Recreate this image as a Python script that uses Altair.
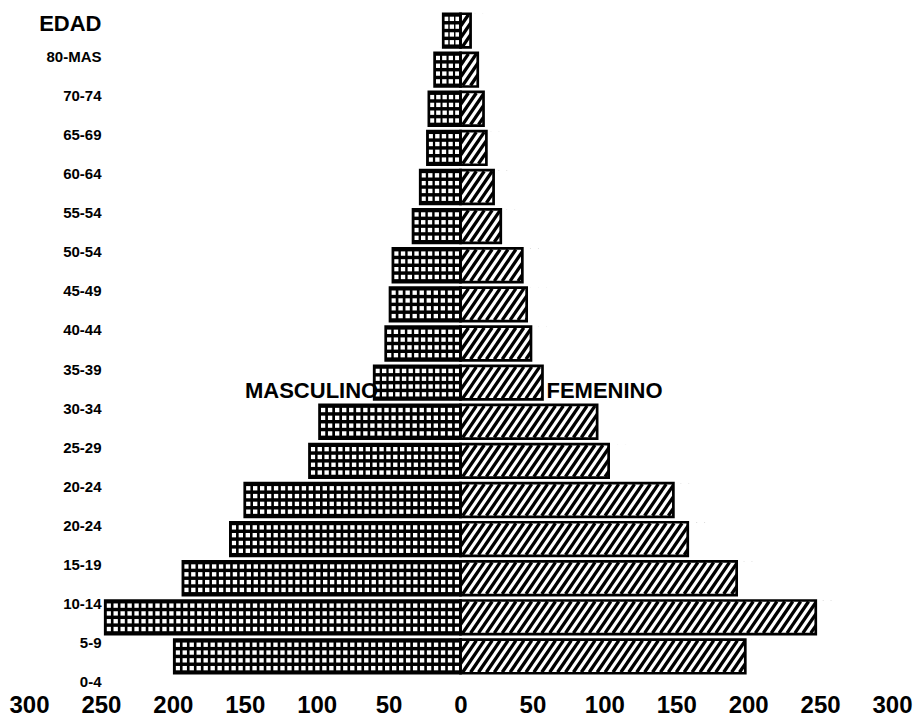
import altair as alt
import pandas as pd

# Age groups, top to bottom (as printed in the original)
edades = ["80-MAS", "70-74", "65-69", "60-64", "55-54", "50-54", "45-49", "40-44",
          "35-39", "30-34", "25-29", "20-24", "20-24", "15-19", "10-14", "5-9", "0-4"]
# Values
masculino = [12, 18, 22, 23, 28, 33, 47, 49, 52, 60, 98, 105, 150, 160, 193, 247, 199]
femenino = [7, 12, 16, 18, 23, 28, 43, 46, 49, 57, 95, 103, 148, 158, 192, 247, 198]
ticks_x = [-300, -250, -200, -150, -100, -50, 0, 50, 100, 150, 200, 250, 300]

rows = []
for i, (e, m, f) in enumerate(zip(edades, masculino, femenino)):
    rows.append({"orden": i, "edad": e, "sexo": "MASCULINO", "valor": -m})
    rows.append({"orden": i, "edad": e, "sexo": "FEMENINO", "valor": f})
df = pd.DataFrame(rows)
df_m = df[df.sexo == "MASCULINO"].reset_index(drop=True)
df_f = df[df.sexo == "FEMENINO"].reset_index(drop=True)

# the sex labels sit beside the 10th bar of the pyramid
k = 9
lab_m = pd.DataFrame([{"orden": k, "valor": -masculino[k], "texto": "MASCULINO"}])
lab_f = pd.DataFrame([{"orden": k, "valor": femenino[k], "texto": "FEMENINO"}])

label_expr = "[" + ",".join("'%s'" % e for e in edades) + "][datum.value]"

FONT = "Liberation Sans"

# pattern styling (texture of the printed bars)
HATCH_STEP = 5.5     # horizontal spacing of the diagonal hatch
HATCH_SHIFT = 15     # horizontal run of one hatch line over the bar height
GRID_STEP = 4.8      # approximate spacing of the dots in the grid texture
HALF = 15.8          # half bar height in pixels
DOT_ROWS = [-11.7, -3.9, 3.9, 11.7]

x_scale = alt.Scale(domain=[-300, 300], nice=False)
y_scale = alt.Scale(paddingInner=0.14, paddingOuter=0.07)

x_axis = alt.Axis(
    values=ticks_x, labelExpr="abs(datum.value)", title=None,
    domain=False, ticks=False, grid=False, labelFlush=False, labelOverlap=False,
    labelFont=FONT, labelFontSize=24, labelFontWeight="bold", labelColor="black",
    labelPadding=17,
)
y_axis = alt.Axis(
    labelExpr=label_expr, domain=False, ticks=False, grid=False,
    offset=-72, labelPadding=0, labelAlign="right", labelBaseline="middle",
    labelOffset=26, labelFont=FONT, labelFontSize=15, labelFontWeight="bold",
    labelColor="black",
    title="EDAD", titleAngle=0, titleAlign="right", titleBaseline="middle",
    titleX=0, titleY=12, titleFont=FONT, titleFontSize=22, titleFontWeight="bold",
    titleColor="black",
)

X = lambda f: alt.X(f, scale=x_scale, axis=x_axis)
Y = lambda: alt.Y("orden:O", scale=y_scale, axis=y_axis)

# female hatch lines
hatch = alt.Chart(df_f).transform_calculate(
    h0="sequence(%s, datum.valor, %s)" % (-HATCH_SHIFT, HATCH_STEP)
).transform_flatten(["h0"]).transform_calculate(
    h1="datum.h0 + %s" % HATCH_SHIFT
).mark_rule(color="black", strokeWidth=3.3, yOffset=HALF, y2Offset=-HALF).encode(
    x=X("h0:Q"), x2="h1:Q", y=Y(), y2="orden:O"
)

# white masks trimming the hatch at both ends of each bar
mask_r = alt.Chart(df_f).transform_calculate(
    a="datum.valor", b="datum.valor + %s" % (HATCH_SHIFT + 4)
).mark_bar(color="white").encode(x=X("a:Q"), x2="b:Q", y=Y())
mask_l = alt.Chart(df_f).transform_calculate(
    a="%s" % (-(HATCH_SHIFT + 4)), b="0"
).mark_bar(color="white").encode(x=X("a:Q"), x2="b:Q", y=Y())

# male bars: black with a grid of white dots spread evenly along each bar
male_bg = alt.Chart(df_m).mark_bar(color="black").encode(x=X("valor:Q"), y=Y())
dot_layers = []
for off in DOT_ROWS:
    dot_layers.append(
        alt.Chart(df_m).transform_calculate(
            n="max(1, round(-datum.valor / %s))" % GRID_STEP
        ).transform_calculate(
            idx="sequence(0, datum.n)"
        ).transform_flatten(["idx"]).transform_calculate(
            xd="(datum.idx + 0.5) * datum.valor / datum.n"
        ).mark_square(color="white", size=19, opacity=1, yOffset=off).encode(
            x=X("xd:Q"), y=Y()
        )
    )

# bar outlines
outline = alt.Chart(df).mark_bar(
    color="black", fillOpacity=0, stroke="black", strokeWidth=2.7
).encode(x=alt.X("valor:Q", stack=None, scale=x_scale, axis=x_axis), y=Y())

txt_m = alt.Chart(lab_m).mark_text(
    align="right", baseline="alphabetic", dx=4, dy=15,
    font=FONT, fontSize=22, fontWeight="bold", color="black",
).encode(x=X("valor:Q"), y=Y(), text="texto:N")

txt_f = alt.Chart(lab_f).mark_text(
    align="left", baseline="alphabetic", dx=4, dy=15,
    font=FONT, fontSize=22, fontWeight="bold", color="black",
).encode(x=X("valor:Q"), y=Y(), text="texto:N")

chart = alt.layer(
    hatch, mask_r, mask_l, male_bg, *dot_layers, outline, txt_m, txt_f
).properties(
    width=863, height=665,
    autosize=alt.AutoSizeParams(type="none"),
    padding={"left": 21, "top": 3, "right": 22, "bottom": 44},
).configure_view(stroke=None)

chart.save("out.html", embed_options={"renderer": "svg", "actions": False})
